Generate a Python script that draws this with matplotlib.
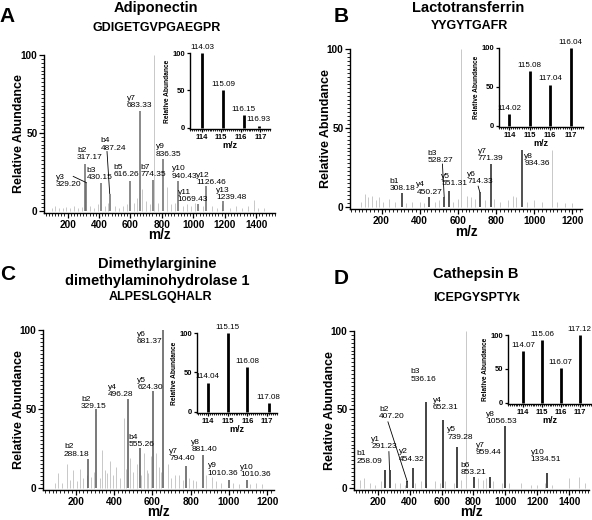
import numpy as np
import matplotlib.pyplot as plt
from matplotlib.ticker import MultipleLocator

plt.rcParams['font.family'] = ['Liberation Sans', 'DejaVu Sans']

# ---------------- data ----------------
# A : Adiponectin  (peak positions as drawn, labels as printed)
a_ion = ['b2', 'y3', 'b3', 'b4', 'b5', 'y7', 'b7', 'y9', 'y10', 'y11', 'y12', 'y13']
a_mz = [310, 320, 415, 468, 595, 658, 746, 805, 905, 1027, 1080, 1190]
a_lab = ['317.17', '329.20', '430.15', '487.24', '616.26', '683.33', '774.35', '836.35', '940.43', '1069.43', '1126.46', '1239.48']
a_int = [30, 18, 18, 11, 19, 64, 20, 33, 19, 4, 16, 6]
a_noise_mz = [100, 120, 145, 170, 190, 215, 240, 265, 290, 345, 370, 395, 440, 455, 500, 530, 555, 580,
              620, 640, 675, 700, 725, 750, 775, 830, 860, 885, 935, 960, 985, 1010, 1060, 1120, 1150,
              1180, 1235, 1270, 1310, 1350, 1385, 1410, 1450]
a_noise_int = [2, 3, 2, 1.5, 2.5, 2, 3, 2, 2.5, 3, 2, 4, 3, 5, 3, 2, 3, 4,
               5, 8, 14, 6, 4, 100, 5, 15, 4, 5, 3, 4, 3, 5, 3, 3, 2,
               4, 2, 3, 2, 3, 7, 2, 2]
a_rep_mz = [114.03, 115.09, 116.15, 116.93]
a_rep_int = [100, 50, 17, 3]
a_rep_lab = ['114.03', '115.09', '116.15', '116.93']

# B : Lactotransferrin
b_ion = ['b1', 'y4', 'b3', 'y5', 'y6', 'y7', 'y8']
b_mz = [308.18, 450.27, 528.27, 551.31, 714.33, 771.39, 934.36]
b_lab = ['308.18', '450.27', '528.27', '551.31', '714.33', '771.39', '934.36']
b_int = [8.4, 6.3, 6.3, 10, 9.4, 27, 36]
b_noise_mz = [95, 115, 130, 150, 170, 185, 210, 240, 270, 330, 360, 400, 420, 480, 500, 575, 600, 615,
              650, 670, 690, 740, 790, 820, 860, 890, 905, 960, 1000, 1040, 1095, 1120, 1160, 1200]
b_noise_int = [3, 8, 6, 7, 4, 6, 3, 5, 3, 2, 3, 3, 2, 3, 4, 3, 5, 100,
               7, 6, 5, 4, 5, 3, 4, 7, 6, 3, 4, 3, 36, 3, 2, 2]
b_rep_mz = [114.0, 115.0, 116.0, 117.0]
b_rep_int = [15, 70, 53, 100]
b_rep_lab = ['114.02', '115.08', '117.04', '116.04']

# C : Dimethylarginine dimethylaminohydrolase 1
c_ion = ['b2', 'b2', 'y4', 'b4', 'y5', 'y6', 'y7', 'y8', 'y9', 'y10']
c_mz = [265, 308, 474, 535, 605, 658, 777, 864, 999, 1095]
c_lab = ['288.18', '329.15', '496.28', '555.26', '624.30', '681.37', '794.40', '881.40', '1010.36', '1010.36']
c_int = [18, 50, 56, 25, 61.5, 100, 14, 21, 5, 4.6]
c_noise_mz = [90, 110, 130, 155, 170, 185, 205, 225, 240, 260, 280, 295, 325, 340, 352, 365, 380, 395,
              410, 430, 455, 465, 485, 500, 520, 540, 555, 570, 580, 595, 620, 635, 645, 680, 700, 720,
              740, 760, 790, 810, 830, 880, 910, 930, 960, 1020, 1050, 1110, 1140, 1170]
c_noise_int = [3, 9, 3, 15, 5, 11, 4, 12, 6, 8, 7, 10, 6, 24, 11, 9, 17, 8,
               13, 6, 44, 12, 19, 10, 15, 8, 22, 11, 9, 20, 22, 13, 10, 15, 6, 8,
               8, 5, 6, 5, 4, 8, 7, 4, 3, 3, 2, 2, 3, 2]
c_rep_mz = [114.0, 115.0, 116.0, 117.08]
c_rep_int = [37, 100, 57, 11]
c_rep_lab = ['114.04', '115.15', '116.08', '117.08']

# D : Cathepsin B
d_ion = ['b1', 'y1', 'b2', 'y2', 'b3', 'y4', 'y5', 'b6', 'y7', 'y8', 'y10']
d_mz = [242, 273, 384, 423, 503, 611, 695, 805, 904, 997, 1260]
d_lab = ['258.09', '291.23', '407.20', '454.32', '536.16', '652.31', '739.28', '853.21', '959.44', '1056.53', '1334.51']
d_int = [11.5, 11.5, 4, 12.6, 54.5, 43, 26, 6.7, 6.7, 39.4, 9.4]
d_noise_mz = [90, 115, 150, 180, 220, 310, 340, 370, 430, 470, 500, 560, 590, 620, 680, 720, 755, 830,
              860, 880, 920, 980, 1020, 1100, 1160, 1200, 1250, 1290, 1400, 1460, 1500]
d_noise_int = [5, 6, 3, 2, 4, 3, 3, 2, 3, 4, 3, 4, 3, 4, 3, 5, 100, 6,
               5, 6, 4, 3, 3, 3, 2, 2, 3, 2, 6, 7, 3]
d_rep_mz = [114.0, 115.0, 116.0, 117.0]
d_rep_int = [76, 92, 52, 100]
d_rep_lab = ['114.07', '115.06', '116.07', '117.12']

# ---------------- layout (label offsets, leader lines) ----------------
a_dx = [32, -114, -10, 23, -19, 0, 0, 36, 38, -30, 34, 53]
a_ly = [32, 14.5, 19, 38, 21, 65, 21, 34, 20, 5, 16, 6]
a_lead = {1: (236, 22), 3: (451, 38)}
b_dx = [0, 0, -20, 30, 2, 0, 80]
b_ly = [9, 7, 27, 12.5, 13.6, 28, 25]
b_lead = {2: (519, 27), 4: (706, 13)}
c_dx = [-59, -12, -37, 10, -17, -73, -21, 7, -30, 42]
c_ly = [19, 49, 57, 25, 61, 90.6, 16, 22, 7, 6]
c_lead = {}
d_dx = [-96, -35, -96, -12, -17, 13, 21, -6, -10, -23, -6]
d_ly = [14.7, 24, 43, 16, 67, 49, 30, 7.3, 20, 40, 15.7]
d_lead = {1: (269, 23), 2: (263, 42)}

W, H = 592, 520
fig = plt.figure(figsize=(W / 100, H / 100), dpi=100)


def rect(l, t, r, b):
    return [l / W, 1 - b / H, (r - l) / W, (b - t) / H]


def ftext(x, y, s, **kw):
    fig.text(x / W, 1 - y / H, s, **kw)


def style(ax, size, major_len):
    for s in ['top', 'right']:
        ax.spines[s].set_visible(False)
    for s in ['left', 'bottom']:
        ax.spines[s].set_linewidth(1.0)
    ax.tick_params(which='major', direction='out', length=major_len, width=0.9,
                   labelsize=size, pad=1.2)
    ax.tick_params(which='minor', direction='out', length=major_len * 0.6, width=0.6)
    for t in ax.get_xticklabels() + ax.get_yticklabels():
        t.set_fontweight('bold')


def spectrum(box, xlim, nmz, nint, mz, inten, ion, lab, dx, ly, lead, color, xl_off, yl_off):
    ax = fig.add_axes(rect(*box))
    ax.vlines(nmz, 0, nint, color='#c8c8c8', lw=0.7)
    ax.vlines(mz, 0, inten, color=color, lw=1.1)
    for i in range(len(mz)):
        ax.text(mz[i] + dx[i], ly[i], ion[i] + '\n' + lab[i], fontsize=6.0,
                ha='center', va='bottom', multialignment='left', linespacing=1.05)
        if i in lead:
            x0, y0 = lead[i]
            ax.plot([x0, mz[i]], [y0, inten[i]], color='k', lw=0.6)
    ax.set_xlim(*xlim)
    ax.set_ylim(-1.5, 100)
    ax.set_yticks([0, 50, 100])
    ax.xaxis.set_major_locator(MultipleLocator(200))
    ax.xaxis.set_minor_locator(MultipleLocator(20))
    ax.yaxis.set_minor_locator(MultipleLocator(2.5))
    style(ax, 7.2, 3.5)
    wpx = box[2] - box[0]
    hpx = box[3] - box[1]
    ax.set_xlabel('m/z', fontsize=9.8, fontweight='bold', va='center')
    ax.xaxis.set_label_coords(0.5, -xl_off / hpx)
    ax.set_ylabel('Relative Abundance', fontsize=9, fontweight='bold', va='center')
    ax.yaxis.set_label_coords(-yl_off / wpx, 0.5)
    return ax


def reporter(box, xlim, mz, inten, lab):
    ax = fig.add_axes(rect(*box))
    ax.vlines(mz, 0, inten, color='k', lw=2.0)
    for m, v, s in zip(mz, inten, lab):
        ax.text(m, v + 3, s, fontsize=5.8, ha='center', va='bottom')
    ax.set_xlim(*xlim)
    ax.set_ylim(-1.5, 100)
    ax.set_xticks([114, 115, 116, 117])
    ax.set_yticks([0, 50, 100])
    ax.xaxis.set_minor_locator(MultipleLocator(0.1))
    ax.patch.set_alpha(0)
    style(ax, 5.5, 2.5)
    ax.set_xlabel('m/z', fontsize=6.5, fontweight='bold', labelpad=0)
    ax.set_ylabel('Relative Abundance', fontsize=4.8, fontweight='bold', labelpad=1)
    return ax


# panel A
spectrum((44, 55, 275, 213), (50, 1520), a_noise_mz, a_noise_int, a_mz, a_int,
         a_ion, a_lab, a_dx, a_ly, a_lead, '#6a6a6a', 22, 25)
reporter((190, 53, 270, 129), (113.4, 117.5), a_rep_mz, a_rep_int, a_rep_lab)
ftext(7, 17, 'A', fontsize=15, fontweight='bold', ha='center', va='center')
ftext(156, 8, 'Adiponectin', fontsize=10.5, fontweight='bold', ha='center', va='center')
ftext(157, 28, 'GDIGETGVPGAEGPR', fontsize=9, fontweight='bold', ha='center', va='center')

# panel B
spectrum((350, 49, 582, 209), (35, 1250), b_noise_mz, b_noise_int, b_mz, b_int,
         b_ion, b_lab, b_dx, b_ly, b_lead, '#222222', 23, 24)
reporter((499, 48, 583, 127), (113.5, 117.6), b_rep_mz, b_rep_int, b_rep_lab)
ftext(341, 17, 'B', fontsize=15, fontweight='bold', ha='center', va='center')
ftext(468, 8, 'Lactotransferrin', fontsize=10.5, fontweight='bold', ha='center', va='center')
ftext(469, 26, 'YYGYTGAFR', fontsize=9, fontweight='bold', ha='center', va='center')

# panel C
spectrum((43, 330, 274, 490), (30, 1235), c_noise_mz, c_noise_int, c_mz, c_int,
         c_ion, c_lab, c_dx, c_ly, c_lead, '#555555', 22, 23.5)
reporter((197, 333, 277, 413), (113.45, 117.5), c_rep_mz, c_rep_int, c_rep_lab)
ftext(8, 275, 'C', fontsize=15, fontweight='bold', ha='center', va='center')
ftext(157, 264, 'Dimethylarginine', fontsize=10.5, fontweight='bold', ha='center', va='center')
ftext(157, 281, 'dimethylaminohydrolase 1', fontsize=10.5, fontweight='bold', ha='center', va='center')
ftext(160, 297, 'ALPESLGQHALR', fontsize=9, fontweight='bold', ha='center', va='center')

# panel D
spectrum((354, 331, 589, 490), (50, 1525), d_noise_mz, d_noise_int, d_mz, d_int,
         d_ion, d_lab, d_dx, d_ly, d_lead, '#111111', 22, 24)
reporter((508, 335, 591, 404), (113.2, 117.6), d_rep_mz, d_rep_int, d_rep_lab)
ftext(341, 278, 'D', fontsize=15, fontweight='bold', ha='center', va='center')
ftext(476, 274, 'Cathepsin B', fontsize=10.5, fontweight='bold', ha='center', va='center')
ftext(477, 298, 'ICEPGYSPTYk', fontsize=9, fontweight='bold', ha='center', va='center')

fig.savefig('out.png', dpi=100)
